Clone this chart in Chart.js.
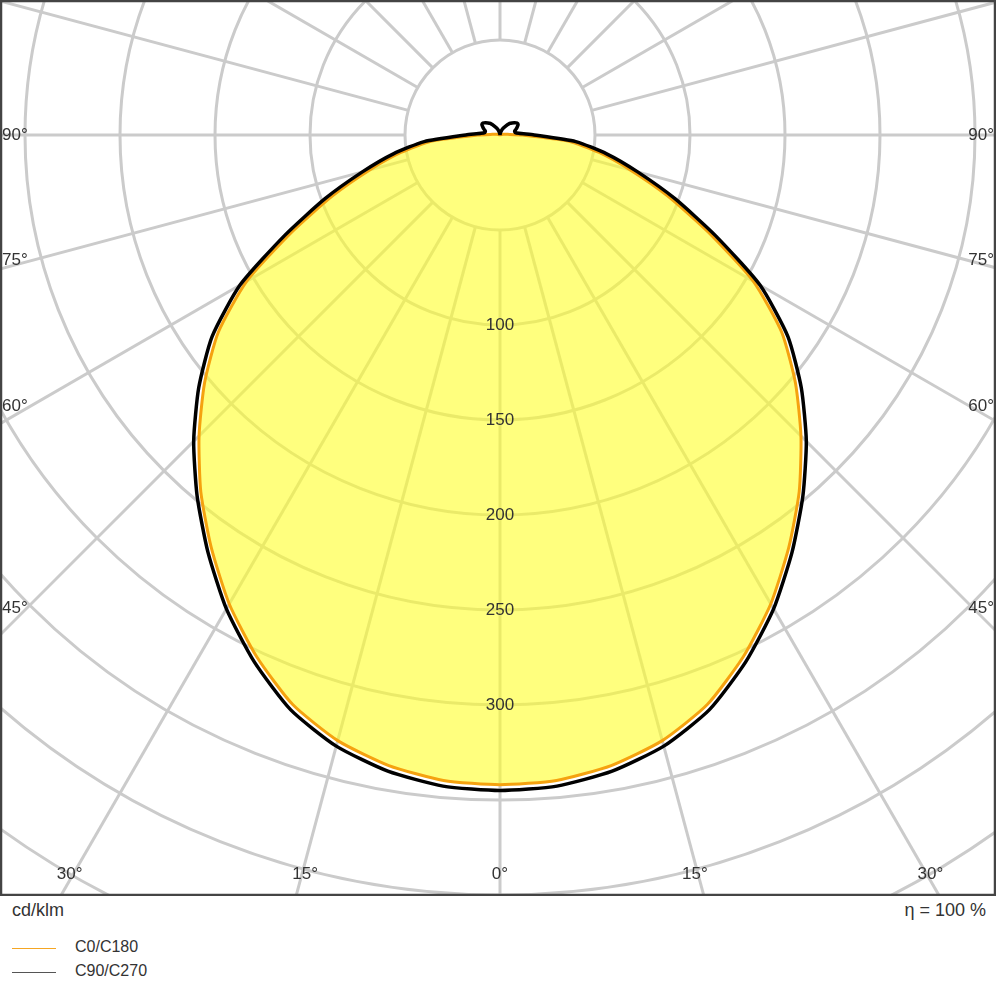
<!DOCTYPE html>
<html>
<head>
<meta charset="utf-8">
<script src="https://cdn.jsdelivr.net/npm/chart.js@4"></script>
<style>
  body { margin: 0; background: #fff; font-family: "Liberation Sans", Arial, sans-serif; color: #333; }
  #wrap { position: relative; width: 1000px; height: 1000px; }
  canvas { position: absolute; left: 0; top: 0; }
  .t { position: absolute; font-size: 18px; }
  .sw { position: absolute; left: 12px; width: 44px; height: 0; border-top: 1.5px solid; }
</style>
</head>
<body>
<div id="wrap">
  <canvas id="chart" width="996" height="896"></canvas>
  <div class="t" style="left:12px;top:900px">cd/klm</div>
  <div class="t" style="right:14px;top:900px">η = 100 %</div>
  <div class="sw" style="top:948px;border-color:#f5a623"></div>
  <div class="t" style="left:75px;top:938px;font-size:16px">C0/C180</div>
  <div class="sw" style="top:972px;border-color:#555"></div>
  <div class="t" style="left:75px;top:962px;font-size:16px">C90/C270</div>
</div>
<script>
// gamma angles (deg) and luminous intensity (cd/klm)
var angles = [0, 5, 10, 15, 20, 25, 30, 35, 40, 45, 50, 55, 60, 65, 70, 75, 80, 85, 90,
              95, 100, 105, 110, 115, 120, 125, 130, 135, 140, 150, 160, 170, 180];
var c0c180 = [342, 341, 337, 330, 319, 303, 285, 265, 245, 224, 203, 181, 154, 121, 94, 71, 53, 36, 12,
              4, 2, 1, 0, 0, 0, 0, 0, 0, 0, 0, 0, 0, 0];
var c90c270 = [345, 344, 340, 333, 322, 306, 288, 268, 248, 228, 207, 185, 158, 125, 98, 75, 57, 40, 18,
               10, 8, 8, 9, 10, 11, 11, 10, 9, 8, 5, 3, 1, 0];
var ringValues = [50, 100, 150, 200, 250, 300, 350, 400, 450, 500];
var ringLabels = [100, 150, 200, 250, 300];
var bottomAngles = [0, 15, 30];
var sideAngles = [45, 60, 75, 90];

function toXY(vals) {
  var pts = [];
  // from -180 (left side) through 0 to +180
  for (var i = angles.length - 1; i >= 0; i--) {
    var a = -angles[i] * Math.PI / 180;
    pts.push({ x: vals[i] * Math.sin(a), y: -vals[i] * Math.cos(a) });
  }
  for (var j = 1; j < angles.length; j++) {
    var b = angles[j] * Math.PI / 180;
    pts.push({ x: vals[j] * Math.sin(b), y: -vals[j] * Math.cos(b) });
  }
  return pts;
}

var gridPlugin = {
  id: "polarGrid",
  beforeDatasetsDraw(chart) {
    var ctx = chart.ctx, xs = chart.scales.x, ys = chart.scales.y, ca = chart.chartArea;
    var cx = xs.getPixelForValue(0), cy = ys.getPixelForValue(0);
    var k = xs.getPixelForValue(1) - cx;
    ctx.save();
    ctx.beginPath();
    ctx.rect(ca.left, ca.top, ca.right - ca.left, ca.bottom - ca.top);
    ctx.clip();
    ctx.strokeStyle = "#cbcbcb";
    ctx.lineWidth = 3;
    ringValues.forEach(function (r) {
      ctx.beginPath();
      ctx.arc(cx, cy, r * k, 0, Math.PI * 2);
      ctx.stroke();
    });
    for (var a = 0; a < 360; a += 15) {
      var t = a * Math.PI / 180;
      ctx.beginPath();
      ctx.moveTo(cx + Math.sin(t) * 50 * k, cy + Math.cos(t) * 50 * k);
      ctx.lineTo(cx + Math.sin(t) * 1500, cy + Math.cos(t) * 1500);
      ctx.stroke();
    }
    ctx.restore();
  },
  afterDatasetsDraw(chart) {
    var ctx = chart.ctx, xs = chart.scales.x, ys = chart.scales.y, ca = chart.chartArea;
    var cx = xs.getPixelForValue(0), cy = ys.getPixelForValue(0);
    var k = xs.getPixelForValue(1) - cx;
    ctx.save();
    ctx.fillStyle = "#333";
    ctx.font = "17px 'Liberation Sans', Arial, sans-serif";
    ctx.textAlign = "center";
    ctx.textBaseline = "middle";
    ringLabels.forEach(function (r) {
      ctx.fillText(String(r), cx, cy + r * k);
    });
    bottomAngles.forEach(function (a) {
      var off = Math.tan(a * Math.PI / 180) * (ca.bottom - cy);
      var shift = a === 0 ? 0 : -9;
      ctx.fillText(a + "°", cx + off + shift, ca.bottom - 22);
      if (a) ctx.fillText(a + "°", cx - off - shift, ca.bottom - 22);
    });
    sideAngles.forEach(function (a) {
      var yy = cy + (ca.right - cx) / Math.tan(a * Math.PI / 180) - (90 - a) / 2;
      ctx.textAlign = "left";
      ctx.fillText(a + "°", ca.left + 2, yy);
      ctx.textAlign = "right";
      ctx.fillText(a + "°", ca.right - 2, yy);
    });
    ctx.strokeStyle = "#444";
    ctx.lineWidth = 2.5;
    ctx.strokeRect(ca.left + 1, ca.top + 1, ca.right - ca.left - 2, ca.bottom - ca.top - 2);
    ctx.restore();
  }
};

new Chart(document.getElementById("chart"), {
  type: "line",
  data: {
    datasets: [
      { label: "C90/C270", data: toXY(c90c270), borderColor: "#000", borderWidth: 3.5,
        pointRadius: 0, fill: false, tension: 0.2 },
      { label: "C0/C180", data: toXY(c0c180), borderColor: "#f5a20f", borderWidth: 3,
        backgroundColor: "rgba(255,255,40,0.6)", pointRadius: 0, fill: "shape", tension: 0.2 }
    ]
  },
  options: {
    responsive: false,
    devicePixelRatio: 1,
    animation: false,
    parsing: false,
    layout: { padding: 0 },
    plugins: { legend: { display: false }, tooltip: { enabled: false } },
    scales: {
      x: { type: "linear", display: false, min: -500 / 1.9, max: 496 / 1.9 },
      y: { type: "linear", display: false, min: -761 / 1.9, max: 135 / 1.9 }
    }
  },
  plugins: [gridPlugin]
});
</script>
</body>
</html>
